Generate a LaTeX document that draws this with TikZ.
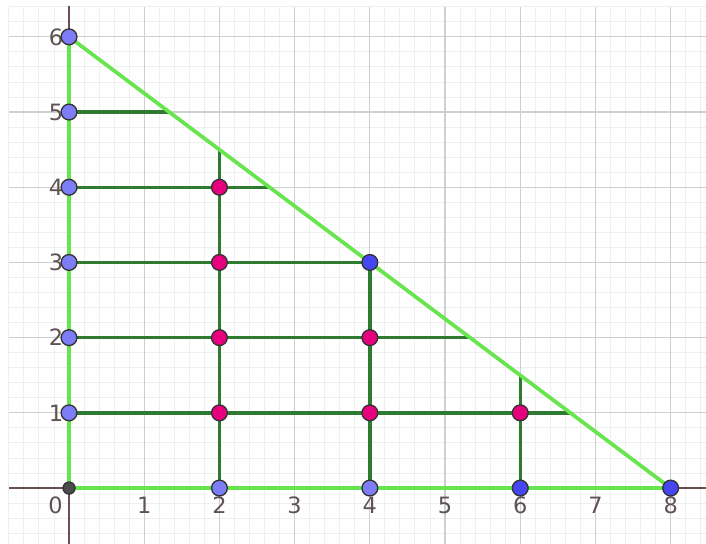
\documentclass[tikz,border=0pt]{standalone}
\usepackage{fontspec}
\setmainfont{DejaVu Sans}
\definecolor{lightg}{HTML}{66E64C}
\definecolor{darkg}{HTML}{2E7A30}
\definecolor{ptblue}{HTML}{7D7DF5}
\definecolor{ptdblue}{HTML}{4646F0}
\definecolor{ptmag}{HTML}{E6007E}
\definecolor{majg}{HTML}{CFCFCF}
\definecolor{ming}{HTML}{EFEFEF}
\definecolor{axisc}{HTML}{6B4F4F}
\definecolor{labc}{HTML}{5E5252}
\tikzset{
  pt/.style={circle,draw=black!80,line width=0.5pt,inner sep=0pt,minimum size=0.21cm},
  bpt/.style={pt,fill=ptblue},
  dbpt/.style={pt,fill=ptdblue},
  mpt/.style={pt,fill=ptmag},
  opt/.style={pt,fill=black!70,minimum size=0.16cm},
  lg/.style={lightg,line width=1.4pt},
  dg/.style={darkg,line width=1.3pt},
  lab/.style={text=labc,font=\fontsize{8.5}{10}\selectfont,inner sep=0pt}
}
\begin{document}
\begin{tikzpicture}[x=1cm,y=1cm]
\useasboundingbox[fill=white] (-0.918,-0.731) rectangle (8.47,6.49);
% grid
\draw[ming,line width=0.35pt] (-0.8,-0.8) grid[step=0.2] (8.6,6.4);
\draw[majg,line width=0.45pt] (-0.8,-0.8) grid[step=1] (8.6,6.4);
% axes
\draw[axisc,line width=0.6pt] (-0.8,0) -- (8.6,0);
\draw[axisc,line width=0.6pt] (0,-0.8) -- (0,6.41);
% labels
\foreach \x in {1,...,8} \node[lab] at (\x,-0.23) {\x};
\node[lab] at (-0.18,-0.23) {0};
\foreach \y in {1,...,6} \node[lab,anchor=east] at (-0.07,\y) {\y};
% coordinates
\coordinate (O) at (0,0);
\coordinate (A) at (8,0);
\coordinate (B) at (0,6);
\foreach \y in {1,...,5} \coordinate (Y\y) at (0,\y);
\coordinate (X2) at (2,0);
\coordinate (X4) at (4,0);
\coordinate (X6) at (6,0);
\coordinate (E5) at (4/3,5);
\coordinate (E4) at (8/3,4);
\coordinate (E3) at (4,3);
\coordinate (E2) at (16/3,2);
\coordinate (E1) at (20/3,1);
\coordinate (T2) at (2,4.5);
\coordinate (T6) at (6,1.5);
% dark green segments
\foreach \y in {1,...,5} \draw[dg] (Y\y) -- (E\y);
\draw[dg] (X2) -- (T2);
\draw[dg] (X4) -- (E3);
\draw[dg] (X6) -- (T6);
% light green triangle
\draw[lg] (O) -- (A);
\draw[lg] (O) -- (B);
\draw[lg] (B) -- (A);
% points
\node[opt] (p00) at (O) {};
\foreach \y in {1,...,5} \node[bpt] (py\y) at (Y\y) {};
\node[bpt] (p06) at (B) {};
\node[bpt] (p20) at (X2) {};
\node[bpt] (p40) at (X4) {};
\node[dbpt] (p60) at (X6) {};
\node[dbpt] (p80) at (A) {};
\node[dbpt] (p43) at (E3) {};
\foreach \y in {1,...,4} \node[mpt] (m2\y) at (2,\y) {};
\node[mpt] (m41) at (4,1) {};
\node[mpt] (m42) at (4,2) {};
\node[mpt] (m61) at (6,1) {};
\end{tikzpicture}
\end{document}
